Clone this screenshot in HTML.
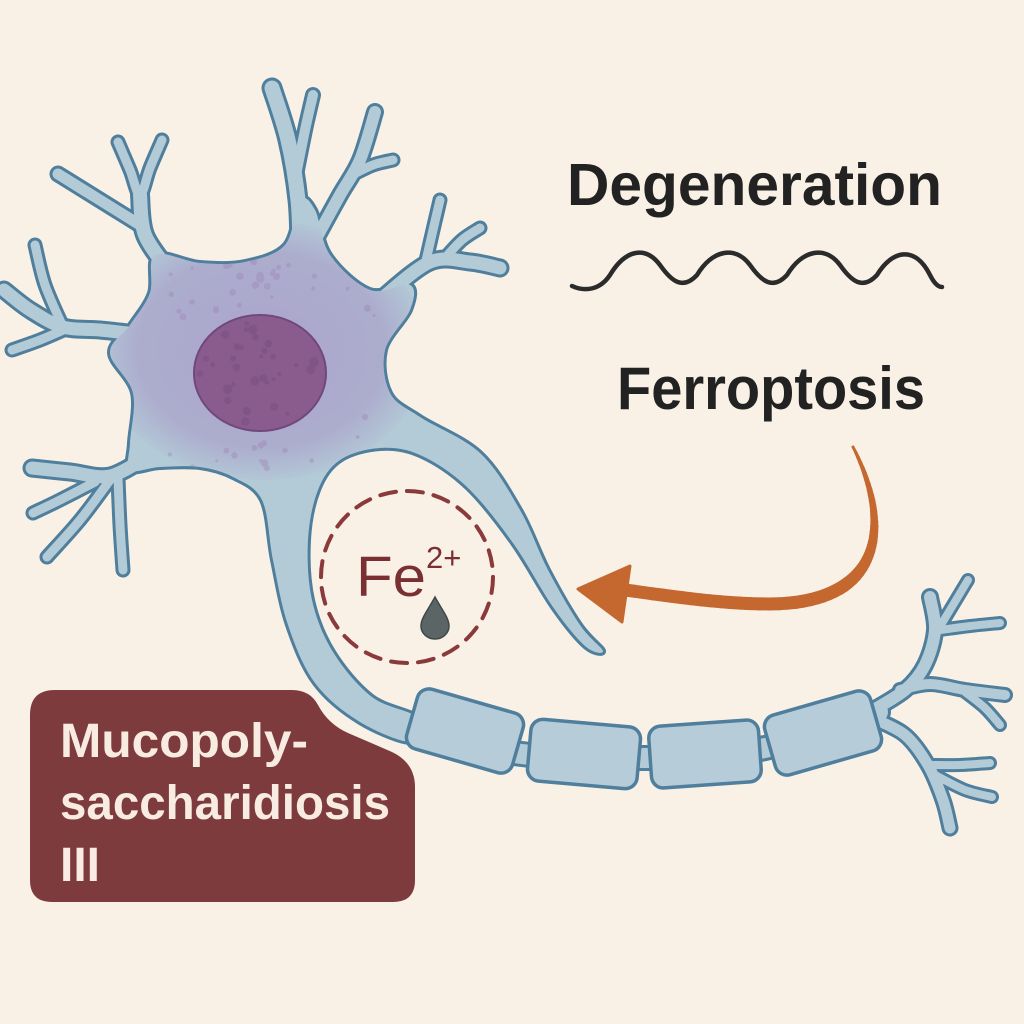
<!DOCTYPE html>
<html><head><meta charset="utf-8"><style>
html,body{margin:0;padding:0;background:#faf1e6;}
svg{display:block}
</style></head><body>
<svg id="s" width="1024" height="1024" viewBox="0 0 1024 1024" xmlns="http://www.w3.org/2000/svg">
<defs>
<radialGradient id="pg" cx="0.5" cy="0.5" r="0.5">
<stop offset="0" stop-color="#a99cc8" stop-opacity="0.8"/>
<stop offset="0.75" stop-color="#a99cc8" stop-opacity="0.65"/>
<stop offset="1" stop-color="#a99cc8" stop-opacity="0.1"/>
</radialGradient>
<clipPath id="bc"><path id="bodyclip"/></clipPath>
</defs>
<rect width="1024" height="1024" fill="#faf1e6"/>
<g id="dk" fill="none" stroke="#4f7f9c" stroke-linecap="round" stroke-linejoin="round"></g>
<path id="bodyD" fill="none" stroke="#4f7f9c" stroke-width="6"/>
<g id="lt" fill="none" stroke="#b3cbd7" stroke-linecap="round" stroke-linejoin="round"></g>
<path id="bodyF" fill="#b3cbd7"/>
<g clip-path="url(#bc)">
<ellipse cx="262" cy="350" rx="165" ry="130" fill="url(#pg)"/>
<g id="dots" fill="#9d86b4" opacity="0.4"></g>
</g>
<ellipse cx="260" cy="373" rx="66" ry="58" fill="#8a5c8e" stroke="#70487a" stroke-width="2"/>
<g id="ndots" fill="#6f4577" opacity="0.3"></g>
<g id="myel"></g>

<circle cx="407" cy="577" r="86" fill="none" stroke="#8a3a3a" stroke-width="4" stroke-dasharray="16 11" stroke-linecap="round"/>
<text x="356" y="596" font-family="Liberation Sans, sans-serif" font-size="57" fill="#7a2f33" textLength="70" lengthAdjust="spacingAndGlyphs">Fe</text>
<text x="426" y="568" font-family="Liberation Sans, sans-serif" font-size="31" fill="#7a2f33">2+</text>
<path d="M435,597 C428,610 421,618 421,626 A14,13 0 0 0 449,626 C449,618 442,610 435,597 Z" fill="#5b6566" stroke="#3e4848" stroke-width="1.5"/>

<g id="arrow" fill="none" stroke="#c4682f" stroke-linecap="round"></g>
<polygon points="578,589 630,566 622,622" fill="#c4682f" stroke="#c4682f" stroke-width="3" stroke-linejoin="round"/>

<text x="567" y="205" font-family="Liberation Sans, sans-serif" font-weight="bold" font-size="59" fill="#222" textLength="375" lengthAdjust="spacingAndGlyphs">Degeneration</text>
<path d="M572,286 C585,292 600,290 610,275 C625,250 645,245 660,265 C672,282 683,290 697,275 C712,250 735,245 750,265 C762,282 773,290 787,275 C802,250 825,245 840,265 C852,282 863,290 877,275 C892,250 915,245 930,275 C934,283 938,287 942,287" fill="none" stroke="#2b2b2b" stroke-width="4.5" stroke-linecap="round"/>
<text x="617" y="409" font-family="Liberation Sans, sans-serif" font-weight="bold" font-size="60" fill="#222" textLength="308" lengthAdjust="spacingAndGlyphs">Ferroptosis</text>

<path d="M30,715 Q30,690 55,690 L292,690 Q310,690 318,705 Q328,724 348,733 L392,752 Q415,763 415,787 L415,880 Q415,902 393,902 L52,902 Q30,902 30,880 Z" fill="#7e3b3d"/>
<g font-family="Liberation Sans, sans-serif" font-weight="bold" font-size="48" fill="#f8ece2">
<text x="60" y="757" textLength="248" lengthAdjust="spacingAndGlyphs">Mucopoly-</text>
<text x="60" y="819" textLength="330" lengthAdjust="spacingAndGlyphs">saccharidiosis</text>
<text x="60" y="881">III</text>
</g>
</svg>
<script>
function cr(p,closed){
 var n=p.length,d="M"+p[0][0]+","+p[0][1];
 var g=function(i){ if(closed) return p[(i+n)%n]; return p[Math.max(0,Math.min(n-1,i))]; };
 var m=closed?n:n-1;
 for(var i=0;i<m;i++){
  var p0=g(i-1),p1=g(i),p2=g(i+1),p3=g(i+2);
  var c1=[p1[0]+(p2[0]-p0[0])/6,p1[1]+(p2[1]-p0[1])/6];
  var c2=[p2[0]-(p3[0]-p1[0])/6,p2[1]-(p3[1]-p1[1])/6];
  d+=" C"+c1[0].toFixed(1)+","+c1[1].toFixed(1)+" "+c2[0].toFixed(1)+","+c2[1].toFixed(1)+" "+p2[0]+","+p2[1];
 }
 return d+(closed?" Z":"");
}
var NS="http://www.w3.org/2000/svg";
var body=[[155,255],[200,263],[245,262],[285,245],[300,200],[315,210],[330,255],[370,290],[410,285],[410,310],[385,350],[390,393],[420,417],[480,453],[520,510],[548,570],[580,625],[603,651],[585,646],[553,607],[513,543],[467,487],[420,455],[380,448],[340,460],[318,490],[308,540],[312,600],[333,652],[372,697],[418,718],[412,742],[360,722],[315,683],[288,625],[273,560],[262,500],[233,477],[200,467],[160,467],[130,470],[130,443],[133,393],[110,353],[130,325],[150,293]];
var bd=cr(body,true);
document.getElementById("bodyD").setAttribute("d",bd);
document.getElementById("bodyF").setAttribute("d",bd);
document.getElementById("bodyclip").setAttribute("d",bd);
var den=[
 [[[300,250],[298,200],[288,140],[272,88]],15],
 [[[296,175],[305,130],[313,95]],10],
 [[[318,235],[340,195],[360,160],[375,112]],12],
 [[[352,175],[373,165],[393,160]],9],
 [[[170,272],[145,235],[140,195]],14],
 [[[118,142],[130,170],[140,195],[150,168],[162,140]],9],
 [[[140,225],[95,197],[58,174]],11],
 [[[145,335],[100,330],[63,327],[30,310],[4,290]],13],
 [[[63,327],[45,285],[35,245]],9],
 [[[70,327],[40,340],[12,350]],9],
 [[[150,455],[110,476],[70,472],[32,468]],13],
 [[[95,482],[60,500],[33,513]],9],
 [[[110,480],[80,520],[47,557]],9],
 [[[118,478],[120,525],[123,570]],9],
 [[[380,300],[430,262],[470,262],[500,268]],13],
 [[[425,265],[433,230],[440,200]],9],
 [[[445,258],[462,240],[480,228]],9],
 [[[870,712],[905,690],[925,665],[935,630],[930,597]],12],
 [[[932,640],[950,610],[968,580]],8],
 [[[940,630],[970,626],[1000,623]],8],
 [[[900,690],[930,684],[965,690],[1005,695]],10],
 [[[965,692],[985,708],[1000,725]],8],
 [[[872,718],[905,735],[928,765],[943,800],[950,828]],11],
 [[[930,765],[960,765],[990,763]],8],
 [[[935,775],[965,790],[992,797]],8]
];
var dk=document.getElementById("dk"),lt=document.getElementById("lt");
var ax=[[410,728],[470,745],[530,755],[583,757],[645,758],[705,757],[765,748],[823,733],[878,712]];
den.push([ax,20]);
den.forEach(function(o){
 var d=cr(o[0],false);
 var a=document.createElementNS(NS,"path");a.setAttribute("d",d);a.setAttribute("stroke-width",o[1]+6);dk.appendChild(a);
 var b=document.createElementNS(NS,"path");b.setAttribute("d",d);b.setAttribute("stroke-width",o[1]);lt.appendChild(b);
});
// tapered arrow shaft
function bez(p0,p1,p2,p3,t){var u=1-t;return [u*u*u*p0[0]+3*u*u*t*p1[0]+3*u*t*t*p2[0]+t*t*t*p3[0],u*u*u*p0[1]+3*u*u*t*p1[1]+3*u*t*t*p2[1]+t*t*t*p3[1]];}
var pts=[];
for(var i=0;i<=40;i++)pts.push(bez([853,447],[888,515],[892,603],[770,604],i/40));
for(var i=1;i<=15;i++)pts.push(bez([770,604],[720,604],[670,596],[625,590],i/15));
var ag=document.getElementById("arrow");
for(var i=0;i<pts.length-1;i++){
 var w=Math.min(13,3+i*0.35);
 var l=document.createElementNS(NS,"line");
 l.setAttribute("x1",pts[i][0].toFixed(1));l.setAttribute("y1",pts[i][1].toFixed(1));
 l.setAttribute("x2",pts[i+1][0].toFixed(1));l.setAttribute("y2",pts[i+1][1].toFixed(1));
 l.setAttribute("stroke-width",w.toFixed(1));ag.appendChild(l);
}
var seed=7;function rnd(){seed=(seed*9301+49297)%233280;return seed/233280;}
var dots=document.getElementById("dots");
for(var i=0;i<90;i++){var x=150+rnd()*250,y=260+rnd()*210;var dx=(x-260)/130,dy=(y-373)/62;if(dx*dx+dy*dy<1.1)continue;
 var c=document.createElementNS(NS,"circle");c.setAttribute("cx",x.toFixed(1));c.setAttribute("cy",y.toFixed(1));c.setAttribute("r",(1.5+rnd()*2.5).toFixed(1));dots.appendChild(c);}
var nd=document.getElementById("ndots");
for(var i=0;i<40;i++){var x=200+rnd()*120,y=320+rnd()*110;var dx=(x-260)/60,dy=(y-373)/52;if(dx*dx+dy*dy>1)continue;
 var c=document.createElementNS(NS,"circle");c.setAttribute("cx",x.toFixed(1));c.setAttribute("cy",y.toFixed(1));c.setAttribute("r",(2+rnd()*3).toFixed(1));nd.appendChild(c);}
var my=document.getElementById("myel");
[[465,731,16],[584,754,5],[705,754,-4],[823,733,-16]].forEach(function(s){
 var r=document.createElementNS(NS,"rect");
 r.setAttribute("x",-55);r.setAttribute("y",-31);r.setAttribute("width",110);r.setAttribute("height",62);r.setAttribute("rx",12);
 r.setAttribute("fill","#b6ccd8");r.setAttribute("stroke","#4f7f9c");r.setAttribute("stroke-width","3.5");
 r.setAttribute("transform","translate("+s[0]+","+s[1]+") rotate("+s[2]+")");my.appendChild(r);
});
</script>
</body></html>
